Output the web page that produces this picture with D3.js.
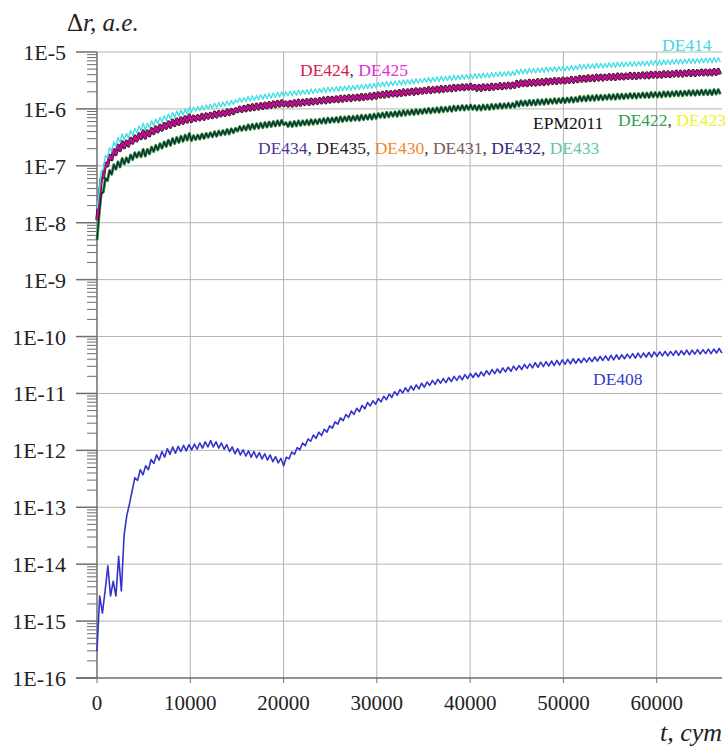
<!DOCTYPE html>
<html>
<head>
<meta charset="utf-8">
<script src="https://cdn.jsdelivr.net/npm/d3@7"></script>
<style>
  body { margin: 0; background: #fff; }
  text { font-family: "Liberation Serif", "DejaVu Serif", serif; }
</style>
</head>
<body>
<div id="chart"></div>
<script>
// values are log10(Δr) x 100 at a fixed time step
const stepTop = 225;   // days between samples of the upper curves
const stepBlue = 290;  // days between samples of DE408

// DE414
const de414 = [-775,-746,-709,-706,-682,-686,-668,-675,-658,-666,-650,-659,-644,-654,-643,-651,-638,-646,-634,-642,
-630,-638,-625,-637,-625,-633,-621,-629,-618,-626,-615,-623,-612,-620,-609,-618,-606,-615,-604,-613,
-602,-611,-600,-609,-597,-606,-597,-604,-596,-603,-594,-602,-593,-600,-592,-599,-590,-598,-589,-596,
-588,-595,-586,-594,-585,-592,-584,-589,-581,-588,-580,-587,-578,-586,-577,-585,-576,-584,-575,-583,
-574,-582,-573,-581,-572,-580,-571,-579,-570,-578,-570,-577,-569,-577,-568,-576,-567,-575,-567,-574,
-566,-574,-565,-573,-565,-572,-564,-571,-563,-571,-562,-570,-562,-569,-561,-569,-560,-568,-560,-567,
-559,-567,-559,-566,-558,-566,-557,-565,-557,-564,-556,-564,-555,-563,-554,-561,-553,-561,-552,-560,
-552,-559,-551,-559,-550,-558,-549,-557,-549,-556,-548,-556,-547,-555,-547,-554,-546,-553,-545,-553,
-545,-552,-544,-552,-543,-551,-543,-550,-542,-550,-541,-549,-541,-548,-540,-548,-540,-547,-539,-547,
-538,-546,-538,-546,-537,-545,-537,-545,-536,-544,-536,-543,-535,-543,-535,-542,-534,-542,-534,-541,
-531,-539,-530,-538,-530,-538,-529,-537,-529,-537,-528,-536,-528,-536,-527,-535,-527,-534,-526,-534,
-526,-533,-525,-533,-525,-532,-524,-532,-524,-531,-522,-530,-522,-530,-521,-529,-521,-529,-520,-528,
-520,-528,-520,-527,-519,-527,-519,-527,-518,-526,-518,-526,-518,-525,-517,-525,-517,-525,-517,-524,
-516,-524,-516,-524,-515,-523,-515,-523,-515,-523,-514,-522,-514,-522,-514,-521,-513,-521,-513,-521,
-513,-520,-512,-520,-512,-520,-512,-519,-511,-519,-511,-519,-511,-519,-510,-518,-510,-518];

// DE424, DE425, EPM2011 (they lie on top of each other)
const de424 = [-795,-760,-723,-720,-696,-700,-682,-689,-672,-680,-664,-673,-658,-668,-657,-665,-652,-660,-648,-656,
-644,-652,-639,-651,-639,-647,-635,-643,-632,-640,-629,-637,-626,-634,-623,-632,-620,-629,-618,-627,
-616,-625,-614,-623,-611,-622,-613,-620,-612,-619,-610,-618,-609,-616,-608,-615,-606,-614,-605,-612,
-604,-611,-602,-610,-601,-608,-600,-605,-597,-604,-596,-603,-594,-602,-593,-601,-592,-600,-591,-599,
-590,-598,-589,-597,-588,-596,-587,-595,-586,-594,-588,-595,-587,-595,-586,-594,-585,-593,-585,-592,
-584,-592,-583,-591,-583,-590,-582,-589,-581,-589,-580,-588,-580,-587,-579,-587,-578,-586,-578,-585,
-577,-585,-577,-584,-576,-584,-575,-583,-575,-582,-574,-582,-573,-581,-572,-579,-571,-579,-570,-578,
-570,-577,-569,-577,-568,-576,-567,-575,-567,-574,-566,-574,-565,-573,-565,-572,-564,-571,-563,-571,
-563,-570,-562,-570,-561,-569,-561,-568,-560,-568,-559,-567,-559,-566,-558,-566,-558,-565,-557,-565,
-559,-567,-559,-567,-558,-566,-558,-566,-557,-565,-557,-564,-556,-564,-556,-563,-555,-563,-555,-562,
-552,-560,-551,-559,-551,-559,-550,-558,-550,-558,-549,-557,-549,-557,-548,-556,-548,-555,-547,-555,
-547,-554,-546,-554,-546,-553,-545,-553,-545,-552,-543,-551,-543,-551,-542,-550,-542,-550,-541,-549,
-541,-549,-541,-548,-540,-548,-540,-548,-539,-547,-539,-547,-539,-546,-538,-546,-538,-546,-538,-545,
-537,-545,-537,-545,-536,-544,-536,-544,-536,-544,-535,-543,-535,-543,-535,-542,-534,-542,-534,-542,
-534,-541,-533,-541,-533,-541,-533,-540,-532,-540,-532,-540,-532,-540,-531,-539,-531,-539];

// DE422, DE423 and DE430..DE435 (one band)
const de422 = [-830,-786,-749,-746,-722,-726,-708,-715,-698,-706,-693,-702,-687,-697,-686,-694,-681,-689,-677,-685,
-676,-684,-671,-683,-671,-679,-667,-675,-664,-672,-661,-669,-658,-666,-655,-664,-652,-661,-650,-659,
-648,-657,-646,-655,-643,-656,-647,-654,-646,-653,-644,-652,-643,-650,-642,-649,-640,-648,-639,-646,
-638,-645,-636,-644,-635,-642,-634,-639,-631,-638,-630,-637,-628,-636,-627,-635,-626,-634,-625,-633,
-624,-632,-623,-631,-622,-630,-621,-629,-620,-628,-624,-631,-623,-631,-622,-630,-621,-629,-621,-628,
-620,-628,-619,-627,-619,-626,-618,-625,-617,-625,-616,-624,-616,-623,-615,-623,-614,-622,-614,-621,
-613,-621,-613,-620,-612,-620,-611,-619,-611,-618,-610,-618,-609,-617,-608,-615,-607,-615,-606,-614,
-606,-613,-605,-613,-604,-612,-603,-611,-603,-610,-602,-610,-601,-609,-601,-608,-600,-607,-599,-607,
-599,-606,-598,-606,-597,-605,-597,-604,-596,-604,-595,-603,-595,-602,-594,-602,-594,-601,-593,-601,
-594,-602,-594,-602,-593,-601,-593,-601,-592,-600,-592,-599,-591,-599,-591,-598,-590,-598,-590,-597,
-587,-595,-586,-594,-586,-594,-585,-593,-585,-593,-584,-592,-584,-592,-583,-591,-583,-590,-582,-590,
-582,-589,-581,-589,-581,-588,-580,-588,-580,-587,-578,-586,-578,-586,-577,-585,-577,-585,-576,-584,
-576,-584,-576,-583,-575,-583,-575,-583,-574,-582,-574,-582,-574,-581,-573,-581,-573,-581,-573,-580,
-572,-580,-572,-580,-571,-579,-571,-579,-571,-579,-570,-578,-570,-578,-570,-577,-569,-577,-569,-577,
-569,-576,-568,-576,-568,-576,-568,-575,-567,-575,-567,-575,-567,-575,-566,-574,-566,-574];

// DE408
const de408 = [-1553,-1456,-1486,-1447,-1403,-1456,-1430,-1456,-1386,-1447,-1350,-1315,-1294,-1271,-1248,-1253,-1234,-1243,-1227,-1234,
-1216,-1223,-1208,-1217,-1202,-1212,-1197,-1207,-1194,-1205,-1193,-1202,-1191,-1201,-1190,-1199,-1189,-1198,-1187,-1196,
-1185,-1194,-1183,-1194,-1185,-1196,-1187,-1198,-1190,-1202,-1194,-1206,-1197,-1208,-1199,-1210,-1201,-1212,-1202,-1213,
-1204,-1215,-1206,-1217,-1208,-1220,-1211,-1222,-1214,-1227,-1212,-1215,-1203,-1207,-1195,-1199,-1187,-1192,-1180,-1184,
-1173,-1179,-1168,-1174,-1163,-1168,-1157,-1161,-1150,-1154,-1143,-1148,-1137,-1142,-1131,-1137,-1126,-1132,-1121,-1127,
-1116,-1122,-1113,-1119,-1109,-1115,-1105,-1111,-1101,-1107,-1097,-1103,-1093,-1099,-1090,-1097,-1087,-1094,-1085,-1092,
-1082,-1089,-1080,-1086,-1077,-1084,-1075,-1082,-1074,-1081,-1072,-1079,-1070,-1077,-1069,-1076,-1067,-1074,-1065,-1072,
-1064,-1071,-1062,-1069,-1060,-1067,-1058,-1065,-1057,-1064,-1055,-1062,-1054,-1061,-1052,-1059,-1051,-1058,-1049,-1056,
-1048,-1055,-1046,-1054,-1045,-1053,-1044,-1052,-1043,-1051,-1042,-1050,-1041,-1049,-1040,-1048,-1039,-1047,-1039,-1046,
-1038,-1045,-1037,-1044,-1036,-1043,-1035,-1042,-1034,-1042,-1033,-1041,-1032,-1040,-1032,-1039,-1031,-1038,-1030,-1038,
-1029,-1037,-1029,-1036,-1028,-1036,-1027,-1035,-1027,-1034,-1026,-1034,-1026,-1033,-1025,-1033,-1025,-1032,-1024,-1032,
-1024,-1031,-1023,-1031,-1023,-1030,-1022,-1030,-1022,-1029,-1021,-1029];

const xTicks = [0, 10000, 20000, 30000, 40000, 50000, 60000];
const yDecades = d3.range(-16, -4); // 1E-16 .. 1E-5

const width = 726, height = 746;
const margin = { left: 97, right: 4, top: 52, bottom: 68 };

const svg = d3.select('#chart').append('svg')
  .attr('width', width)
  .attr('height', height);

svg.append('rect').attr('width', width).attr('height', height).attr('fill', '#fff');

const x = d3.scaleLinear()
  .domain([0, 67000])
  .range([margin.left, width - margin.right]);

const y = d3.scaleLog()
  .domain([1e-16, 1e-5])
  .range([height - margin.bottom, margin.top]);

const toVal = v => Math.pow(10, v / 100);

// grid
svg.append('g')
  .selectAll('line')
  .data(xTicks.slice(1))
  .enter().append('line')
    .attr('x1', d => x(d)).attr('x2', d => x(d))
    .attr('y1', y(1e-16)).attr('y2', y(1e-5))
    .attr('stroke', '#b4b4b4').attr('stroke-width', 1);

svg.append('g')
  .selectAll('line')
  .data(yDecades.slice(1))
  .enter().append('line')
    .attr('x1', x(0)).attr('x2', x(67000))
    .attr('y1', d => y(Math.pow(10, d))).attr('y2', d => y(Math.pow(10, d)))
    .attr('stroke', '#b4b4b4').attr('stroke-width', 1);

// y axis: major and minor ticks on the left
const yAxis = svg.append('g').attr('stroke', '#6e6e6e');
yAxis.append('line')
  .attr('x1', x(0)).attr('x2', x(0))
  .attr('y1', y(1e-16)).attr('y2', y(1e-5))
  .attr('stroke-width', 1.5);

yAxis.selectAll('.major')
  .data(yDecades)
  .enter().append('line')
    .attr('x1', x(0) - 21).attr('x2', x(0))
    .attr('y1', d => y(Math.pow(10, d))).attr('y2', d => y(Math.pow(10, d)))
    .attr('stroke-width', 1.5);

const minor = [];
yDecades.slice(0, -1).forEach(d => {
  for (let k = 2; k <= 9; k++) minor.push(k * Math.pow(10, d));
});
yAxis.selectAll('.minor')
  .data(minor)
  .enter().append('line')
    .attr('x1', x(0) - 10).attr('x2', x(0))
    .attr('y1', d => y(d)).attr('y2', d => y(d))
    .attr('stroke-width', 1);

svg.append('g')
  .selectAll('text')
  .data(yDecades)
  .enter().append('text')
    .attr('x', 66)
    .attr('y', d => y(Math.pow(10, d)) + 8)
    .attr('text-anchor', 'end')
    .attr('font-size', 22)
    .attr('fill', '#222')
    .text(d => '1E' + d);

// x axis
const xAxis = svg.append('g').attr('stroke', '#6e6e6e');
xAxis.append('line')
  .attr('x1', x(0) - 21).attr('x2', x(67000))
  .attr('y1', y(1e-16)).attr('y2', y(1e-16))
  .attr('stroke-width', 1.5);
xAxis.selectAll('.tick')
  .data(xTicks)
  .enter().append('line')
    .attr('x1', d => x(d)).attr('x2', d => x(d))
    .attr('y1', y(1e-16)).attr('y2', y(1e-16) + 5)
    .attr('stroke-width', 1);

svg.append('g')
  .selectAll('text')
  .data(xTicks)
  .enter().append('text')
    .attr('x', d => x(d))
    .attr('y', 710)
    .attr('text-anchor', 'middle')
    .attr('font-size', 21)
    .attr('fill', '#222')
    .text(d => d);

// axis titles
const yTitle = svg.append('text')
  .attr('x', 67).attr('y', 31)
  .attr('font-size', 25)
  .attr('fill', '#222');
yTitle.append('tspan').text('Δ');
yTitle.append('tspan').attr('font-style', 'italic').text('r, a.e.');

svg.append('text')
  .attr('x', 722).attr('y', 741)
  .attr('text-anchor', 'end')
  .attr('font-size', 26)
  .attr('font-style', 'italic')
  .attr('fill', '#222')
  .text('t, сут');

// curves
const line = d3.line()
  .x(d => x(d.t))
  .y(d => y(d.v));

const toPoints = (arr, step) => arr.map((v, i) => ({ t: i * step, v: toVal(v) }));

const curves = [
  { data: de422, step: stepTop, color: '#eeee33', w: 3.0 },
  { data: de422, step: stepTop, color: '#5cc8a8', w: 2.8 },
  { data: de422, step: stepTop, color: '#1f8a44', w: 2.4 },
  { data: de422, step: stepTop, color: '#1d1d3a', w: 1.1 },
  { data: de424, step: stepTop, color: '#111111', w: 3.4 },
  { data: de424, step: stepTop, color: '#d0103c', w: 2.2 },
  { data: de424, step: stepTop, color: '#b010b0', w: 1.4 },
  { data: de414, step: stepTop, color: '#45dfe6', w: 1.4 },
  { data: de408, step: stepBlue, color: '#3434c8', w: 1.6 }
];

svg.append('g')
  .selectAll('path')
  .data(curves)
  .enter().append('path')
    .attr('d', d => line(toPoints(d.data, d.step)))
    .attr('fill', 'none')
    .attr('stroke', d => d.color)
    .attr('stroke-width', d => d.w)
    .attr('stroke-linejoin', 'round');

// curve labels
function label(xp, yp, parts) {
  const t = svg.append('text').attr('x', xp).attr('y', yp).attr('font-size', 17.5);
  parts.forEach(p => t.append('tspan').attr('fill', p[1]).text(p[0]));
}
label(662, 51, [['DE414', '#3fd8e0']]);
label(300, 76, [['DE424', '#d42048'], [', ', '#333'], ['DE425', '#e030d8']]);
label(533, 129, [['EPM2011', '#111']]);
label(618, 126, [['DE422', '#2e9e5a'], [', ', '#333'], ['DE423', '#f0f030']]);
label(258, 154, [
  ['DE434', '#55399a'], [', ', '#333'],
  ['DE435', '#222'], [', ', '#333'],
  ['DE430', '#f08a30'], [', ', '#333'],
  ['DE431', '#7a5a5a'], [', ', '#333'],
  ['DE432', '#2a2a7a'], [', ', '#333'],
  ['DE433', '#5cc8a8']
]);
label(593, 385, [['DE408', '#3a3ac8']]);
</script>
</body>
</html>
